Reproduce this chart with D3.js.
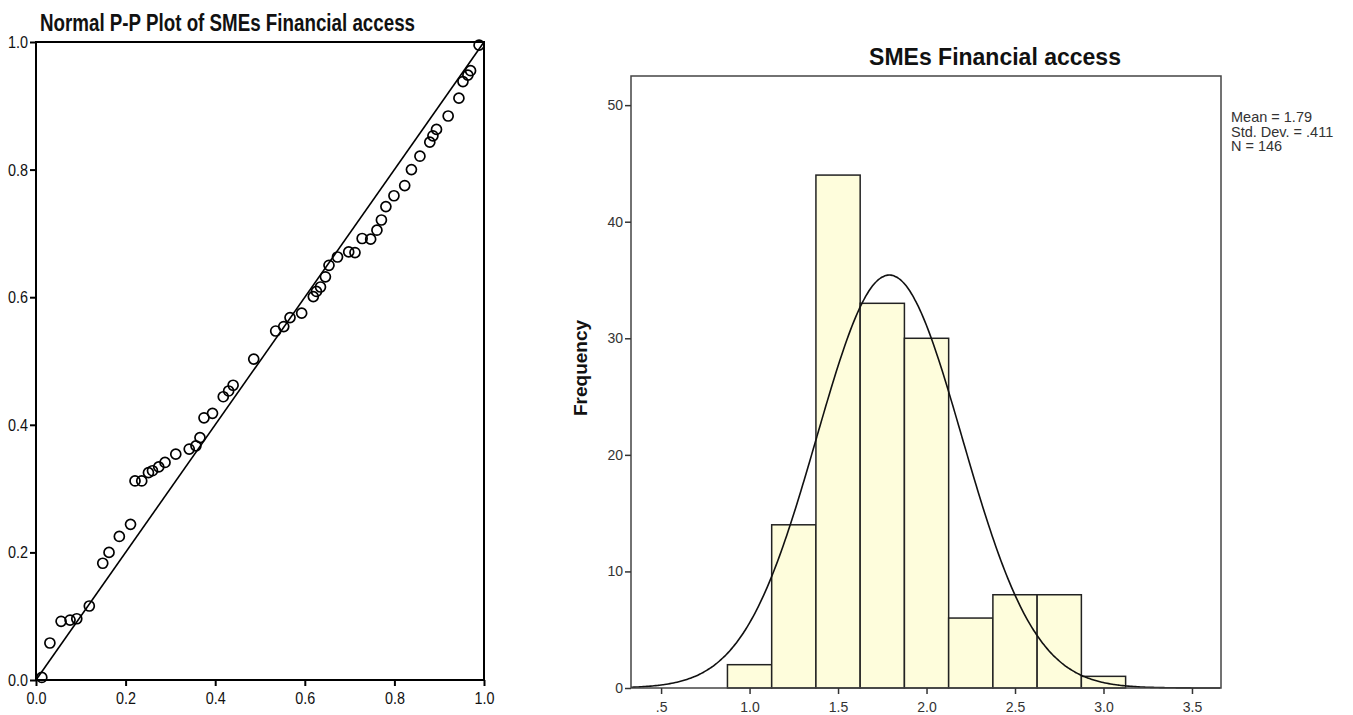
<!DOCTYPE html>
<html>
<head>
<meta charset="utf-8">
<script src="https://cdn.jsdelivr.net/npm/d3@7"></script>
<style>
  body { margin: 0; background: #fff; }
  svg { display: block; }
</style>
</head>
<body>
<div id="chart"></div>
<script>
// P-P plot: observed cumulative probability (x) vs expected (y)
var ppObserved = [0.013, 0.031, 0.056, 0.076, 0.091, 0.119, 0.149, 0.163, 0.186, 0.211,
  0.221, 0.236, 0.251, 0.260, 0.274, 0.288, 0.312, 0.342, 0.357, 0.366,
  0.375, 0.394, 0.418, 0.430, 0.440, 0.486, 0.535, 0.553, 0.567, 0.593,
  0.619, 0.626, 0.635, 0.646, 0.654, 0.673, 0.698, 0.712, 0.728, 0.747,
  0.761, 0.771, 0.781, 0.799, 0.823, 0.838, 0.857, 0.879, 0.886, 0.894,
  0.920, 0.944, 0.953, 0.964, 0.970, 0.989];
var ppExpected = [0.004, 0.058, 0.092, 0.094, 0.096, 0.116, 0.183, 0.200, 0.225, 0.244,
  0.312, 0.312, 0.325, 0.328, 0.334, 0.341, 0.354, 0.362, 0.367, 0.380,
  0.411, 0.418, 0.444, 0.453, 0.462, 0.503, 0.547, 0.554, 0.568, 0.575,
  0.601, 0.609, 0.616, 0.632, 0.650, 0.663, 0.671, 0.670, 0.692, 0.691,
  0.705, 0.721, 0.742, 0.759, 0.775, 0.800, 0.821, 0.843, 0.853, 0.863,
  0.884, 0.912, 0.938, 0.948, 0.955, 0.995];
var ppTicks = [0, 0.2, 0.4, 0.6, 0.8, 1.0];

// histogram
var binStarts = [0.875, 1.125, 1.375, 1.625, 1.875, 2.125, 2.375, 2.625, 2.875];
var binWidth = 0.25;
var binCounts = [2, 14, 44, 33, 30, 6, 8, 8, 1];
var histXTicks = [0.5, 1.0, 1.5, 2.0, 2.5, 3.0, 3.5];
var histXLabels = [".5", "1.0", "1.5", "2.0", "2.5", "3.0", "3.5"];
var histYTicks = [0, 10, 20, 30, 40, 50];
var statMean = 1.79, statSd = 0.411, statN = 146;
var statLines = ["Mean = 1.79", "Std. Dev. = .411", "N = 146"];

var svg = d3.select("#chart").append("svg")
  .attr("width", 1353)
  .attr("height", 715);

var narrow = "'Liberation Sans Narrow', 'Arial Narrow', 'Liberation Sans', Arial, sans-serif";
var sans = "'Liberation Sans', Arial, sans-serif";

// ---------- left: Normal P-P plot ----------
var px = d3.scaleLinear().domain([0, 1]).range([36, 484]);
var py = d3.scaleLinear().domain([0, 1]).range([680, 42]);

svg.append("text")
  .attr("x", 40).attr("y", 31)
  .attr("font-family", narrow)
  .attr("font-size", 23)
  .attr("font-weight", "bold")
  .attr("textLength", 375)
  .attr("lengthAdjust", "spacingAndGlyphs")
  .attr("fill", "#111")
  .text("Normal P-P Plot of SMEs Financial access");

var ppX = svg.append("g")
  .attr("transform", "translate(0,680)")
  .call(d3.axisBottom(px).tickValues(ppTicks).tickSize(6).tickSizeOuter(0)
    .tickFormat(d3.format(".1f")));
var ppY = svg.append("g")
  .attr("transform", "translate(36,0)")
  .call(d3.axisLeft(py).tickValues(ppTicks).tickSize(6).tickSizeOuter(0)
    .tickFormat(d3.format(".1f")));

[ppX, ppY].forEach(function(g) {
  g.select(".domain").remove();
  g.selectAll(".tick line").attr("stroke", "#000").attr("stroke-width", 2);
  g.selectAll(".tick text")
    .attr("font-family", narrow)
    .attr("font-size", 17)
    .attr("textLength", 20)
    .attr("lengthAdjust", "spacingAndGlyphs")
    .attr("fill", "#111");
});
ppX.selectAll(".tick text").attr("dy", "0.9em");
ppY.selectAll(".tick text").attr("x", -8);

// frame
svg.append("rect")
  .attr("x", px(0)).attr("y", py(1))
  .attr("width", px(1) - px(0)).attr("height", py(0) - py(1))
  .attr("fill", "none").attr("stroke", "#000").attr("stroke-width", 2);

// diagonal reference line
svg.append("line")
  .attr("x1", px(0)).attr("y1", py(0))
  .attr("x2", px(1)).attr("y2", py(1))
  .attr("stroke", "#000").attr("stroke-width", 1.6);

svg.append("g")
  .selectAll("circle")
  .data(ppObserved)
  .enter()
  .append("circle")
    .attr("cx", function(d) { return px(d); })
    .attr("cy", function(d, i) { return py(ppExpected[i]); })
    .attr("r", 5)
    .attr("fill", "none")
    .attr("stroke", "#000")
    .attr("stroke-width", 1.7);

// ---------- right: histogram ----------
var hx = d3.scaleLinear().domain([0.33, 3.664]).range([631, 1221]);
var hy = d3.scaleLinear().domain([0, 52.5]).range([688, 76]);

svg.append("text")
  .attr("x", 995).attr("y", 65)
  .attr("text-anchor", "middle")
  .attr("font-family", sans)
  .attr("font-size", 23)
  .attr("font-weight", "bold")
  .attr("fill", "#111")
  .text("SMEs Financial access");

svg.append("text")
  .attr("transform", "translate(587,368) rotate(-90)")
  .attr("text-anchor", "middle")
  .attr("font-family", sans)
  .attr("font-size", 19)
  .attr("font-weight", "bold")
  .attr("fill", "#111")
  .text("Frequency");

svg.append("g")
  .selectAll("rect")
  .data(binCounts)
  .enter()
  .append("rect")
    .attr("x", function(d, i) { return hx(binStarts[i]); })
    .attr("y", function(d) { return hy(d); })
    .attr("width", function(d, i) { return hx(binStarts[i] + binWidth) - hx(binStarts[i]); })
    .attr("height", function(d) { return hy(0) - hy(d); })
    .attr("fill", "#fefddc")
    .attr("stroke", "#222")
    .attr("stroke-width", 1.5);

// normal curve from mean / sd / n
var curveXs = d3.range(0.33, 3.664, 0.01);
var curveLine = d3.line()
  .x(function(d) { return hx(d); })
  .y(function(d) {
    var z = (d - statMean) / statSd;
    return hy(statN * binWidth * Math.exp(-0.5 * z * z) / (statSd * Math.sqrt(2 * Math.PI)));
  })
  .curve(d3.curveBasis);
svg.append("path")
  .datum(curveXs)
  .attr("d", curveLine)
  .attr("fill", "none")
  .attr("stroke", "#111")
  .attr("stroke-width", 1.6);

// frame
svg.append("rect")
  .attr("x", 631).attr("y", 76)
  .attr("width", 1221 - 631).attr("height", 688 - 76)
  .attr("fill", "none").attr("stroke", "#444").attr("stroke-width", 1.5);

var hxAxis = svg.append("g")
  .attr("transform", "translate(0,688)")
  .call(d3.axisBottom(hx).tickValues(histXTicks).tickSize(6).tickSizeOuter(0)
    .tickFormat(function(d, i) { return histXLabels[i]; }));
var hyAxis = svg.append("g")
  .attr("transform", "translate(631,0)")
  .call(d3.axisLeft(hy).tickValues(histYTicks).tickSize(6).tickSizeOuter(0));

[hxAxis, hyAxis].forEach(function(g) {
  g.select(".domain").remove();
  g.selectAll(".tick line").attr("stroke", "#333").attr("stroke-width", 1.5);
  g.selectAll(".tick text")
    .attr("font-family", sans)
    .attr("font-size", 14)
    .attr("fill", "#333");
});
hxAxis.selectAll(".tick text").attr("dy", "1.05em");
hyAxis.selectAll(".tick text").attr("x", -8);

svg.append("g")
  .selectAll("text")
  .data(statLines)
  .enter()
  .append("text")
    .attr("x", 1231)
    .attr("y", function(d, i) { return 122 + i * 14.5; })
    .attr("font-family", sans)
    .attr("font-size", 14.5)
    .attr("fill", "#333")
    .text(function(d) { return d; });
</script>
</body>
</html>
